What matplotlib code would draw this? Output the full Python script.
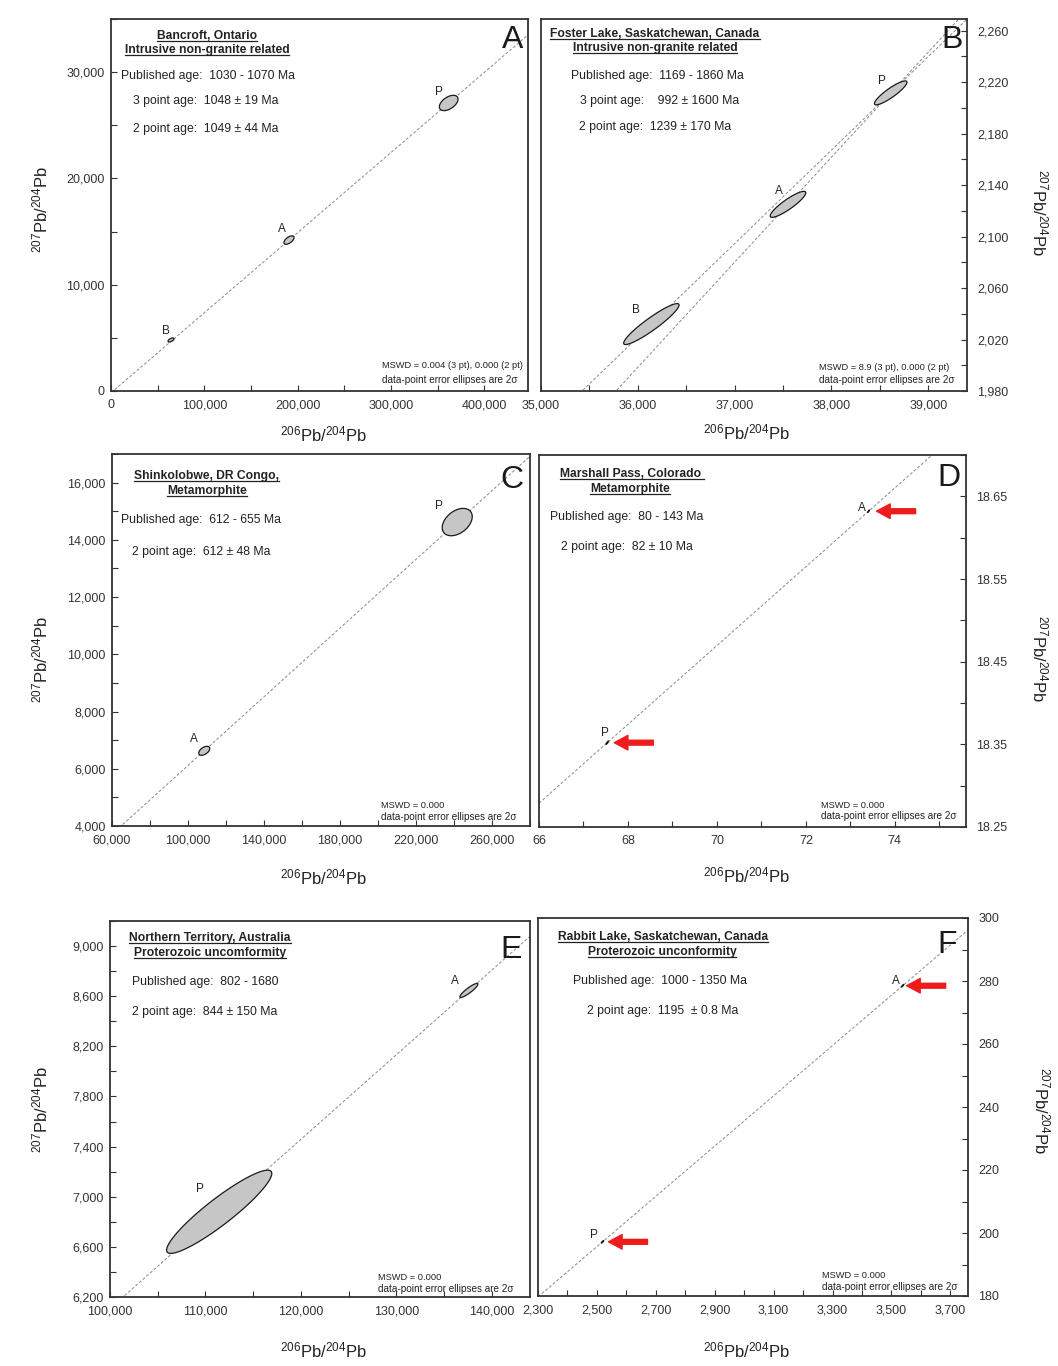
import numpy as np
import matplotlib
matplotlib.use('Agg')
import matplotlib.pyplot as plt
from matplotlib.ticker import MultipleLocator, FuncFormatter
from matplotlib.lines import Line2D

plt.rcParams['font.family'] = ['Liberation Sans', 'DejaVu Sans']
plt.rcParams['mathtext.fontset'] = 'custom'
plt.rcParams['mathtext.rm'] = 'Liberation Sans'
plt.rcParams['mathtext.it'] = 'Liberation Sans:italic'

W, H = 1058, 1366

# --- data: 206Pb/204Pb (x), 207Pb/204Pb (y), 2-sigma errors and error correlation ---
# A  Bancroft, Ontario
a_names = ['B', 'A', 'P']
a_x = [64300, 190800, 362000]
a_y = [4800, 14200, 27100]
a_sx = [3200, 5400, 10000]
a_sy = [190, 400, 720]
a_rho = [0.6, 0.6, 0.5]
a_lines = [('A', 'P')]

# B  Foster Lake, Saskatchewan
b_names = ['B', 'A', 'P']
b_x = [36140, 37551, 38612]
b_y = [2032, 2125, 2211.6]
b_sx = [286, 184, 168]
b_sy = [15.9, 10.1, 9.3]
b_rho = [0.93, 0.89, 0.89]
b_lines = [('B', 'P'), ('A', 'P')]

# C  Shinkolobwe, DR Congo
c_names = ['A', 'P']
c_x = [108550, 241700]
c_y = [6628, 14621]
c_sx = [2900, 7900]
c_sy = [157, 478]
c_rho = [0.5, 0.4]
c_lines = [('A', 'P')]

# D  Marshall Pass, Colorado
d_names = ['A', 'P']
d_x = [73.41, 67.535]
d_y = [18.632, 18.352]
d_sx = [0.02, 0.03]
d_sy = [0.0015, 0.002]
d_rho = [0.9, 0.9]
d_lines = [('P', 'A')]

# E  Northern Territory, Australia
e_names = ['A', 'P']
e_x = [137600, 111440]
e_y = [8646, 6880]
e_sx = [944, 5510]
e_sy = [56, 332]
e_rho = [0.9, 0.92]
e_lines = [('P', 'A')]

# F  Rabbit Lake, Saskatchewan
f_names = ['A', 'P']
f_x = [3538, 2519]
f_y = [278.5, 197.2]
f_sx = [4, 4]
f_sy = [0.4, 0.4]
f_rho = [0.9, 0.9]
f_lines = [('P', 'A')]

titles = {
    'A': ['Bancroft, Ontario', 'Intrusive non-granite related'],
    'B': ['Foster Lake, Saskatchewan, Canada', 'Intrusive non-granite related'],
    'C': ['Shinkolobwe, DR Congo,', 'Metamorphite'],
    'D': ['Marshall Pass, Colorado ', 'Metamorphite'],
    'E': ['Northern Territory, Australia', 'Proterozoic uncomformity'],
    'F': ['Rabbit Lake, Saskatchewan, Canada', 'Proterozoic unconformity'],
}
ages = {
    'A': ['Published age:  1030 - 1070 Ma', '3 point age:  1048 ± 19 Ma', '2 point age:  1049 ± 44 Ma'],
    'B': ['Published age:  1169 - 1860 Ma', '3 point age:    992 ± 1600 Ma', '2 point age:  1239 ± 170 Ma'],
    'C': ['Published age:  612 - 655 Ma', '2 point age:  612 ± 48 Ma'],
    'D': ['Published age:  80 - 143 Ma', '2 point age:  82 ± 10 Ma'],
    'E': ['Published age:  802 - 1680', '2 point age:  844 ± 150 Ma'],
    'F': ['Published age:  1000 - 1350 Ma', '2 point age:  1195  ± 0.8 Ma'],
}
mswd = {
    'A': 'MSWD = 0.004 (3 pt), 0.000 (2 pt)',
    'B': 'MSWD = 8.9 (3 pt), 0.000 (2 pt)',
    'C': 'MSWD = 0.000', 'D': 'MSWD = 0.000', 'E': 'MSWD = 0.000', 'F': 'MSWD = 0.000',
}
arrows = {'D': ['A', 'P'], 'F': ['A', 'P']}

panels = {
    'A': dict(names=a_names, x=a_x, y=a_y, sx=a_sx, sy=a_sy, rho=a_rho, lines=a_lines),
    'B': dict(names=b_names, x=b_x, y=b_y, sx=b_sx, sy=b_sy, rho=b_rho, lines=b_lines),
    'C': dict(names=c_names, x=c_x, y=c_y, sx=c_sx, sy=c_sy, rho=c_rho, lines=c_lines),
    'D': dict(names=d_names, x=d_x, y=d_y, sx=d_sx, sy=d_sy, rho=d_rho, lines=d_lines),
    'E': dict(names=e_names, x=e_x, y=e_y, sx=e_sx, sy=e_sy, rho=e_rho, lines=e_lines),
    'F': dict(names=f_names, x=f_x, y=f_y, sx=f_sx, sy=f_sy, rho=f_rho, lines=f_lines),
}

# --- layout (pixels from top-left) ---
# box l, t, r, b ; tick (major, minor, offset)
layout = {
    'A': dict(box=(111, 19, 528, 391), xlim=(0, 447000), ylim=(0, 35000),
              xt=(100000, 50000, 0), yt=(10000, 5000, 0), side='left'),
    'B': dict(box=(541, 19, 967, 391), xlim=(35000, 39400), ylim=(1980, 2269),
              xt=(1000, 500, 0), yt=(40, 20, 20), side='right'),
    'C': dict(box=(112, 454, 530, 826), xlim=(60000, 280000), ylim=(4000, 17000),
              xt=(40000, 20000, 20000), yt=(2000, 1000, 0), side='left'),
    'D': dict(box=(539, 455, 966, 827), xlim=(66, 75.6), ylim=(18.25, 18.70),
              xt=(2, 1, 0), yt=(0.1, 0.05, 0.05), side='right'),
    'E': dict(box=(110, 921, 530, 1297), xlim=(100000, 144000), ylim=(6200, 9200),
              xt=(10000, 5000, 0), yt=(400, 200, 200), side='left'),
    'F': dict(box=(538, 918, 968, 1296), xlim=(2300, 3760), ylim=(180, 300),
              xt=(200, 100, 100), yt=(20, 10, 0), side='right'),
}
title_pos = {'A': [(207, 35), (207, 49)], 'B': [(655, 33), (655, 47)],
             'C': [(206, 475), (207, 490)], 'D': [(632, 473), (630, 488)],
             'E': [(210, 937), (210, 952)], 'F': [(663, 936), (662, 951)]}
age_pos = {'A': [(121, 76), (133, 101), (133, 129)], 'B': [(571, 76), (580, 101), (579, 127)],
           'C': [(121, 520), (132, 552)], 'D': [(550, 517), (561, 547)],
           'E': [(132, 982), (132, 1012)], 'F': [(573, 981), (587, 1011)]}
mswd_pos = {'A': (382, 366, 380), 'B': (819, 367, 380), 'C': (381, 805, 817),
            'D': (821, 805, 816), 'E': (378, 1277, 1289), 'F': (822, 1276, 1287)}
letter_pos = {'A': (523, 25), 'B': (963, 25), 'C': (523, 465), 'D': (960, 463),
              'E': (522, 935), 'F': (957, 930)}
xlabel_pos = {'A': (323, 434), 'B': (746, 432), 'C': (323, 877), 'D': (746, 875),
              'E': (323, 1350), 'F': (746, 1350)}
ylabel_pos = {'A': (40, 210), 'B': (1040, 212), 'C': (40, 660), 'D': (1040, 658),
              'E': (40, 1110), 'F': (1042, 1110)}
# label offsets (px: right, up) from ellipse centre
name_off = {
    'A': {'B': (-5, 9), 'A': (-7, 11), 'P': (-10, 11)},
    'B': {'B': (-15, 14), 'A': (-9, 13), 'P': (-9, 12)},
    'C': {'A': (-10, 12), 'P': (-18, 16)},
    'D': {'A': (-7, 3), 'P': (-2, 10)},
    'E': {'A': (-14, 9), 'P': (-19, 23)},
    'F': {'A': (-7, 5), 'P': (-9, 7)},
}
arrow_off = {'D': {'A': (8, 47), 'P': (7, 46)}, 'F': {'A': (4, 43), 'P': (6, 45)}}

PT = 72.0 / 100


def fp(x, y):
    return x / W, 1 - y / H


def comma(v, p):
    return f'{v:,.0f}'


fig = plt.figure(figsize=(W / 100, H / 100), dpi=100)
fig.patch.set_facecolor('white')
ink = '#222222'
lab = r'$^{206}$Pb/$^{204}$Pb'
lab_y = r'$^{207}$Pb/$^{204}$Pb'

title_texts = []
t = np.linspace(0, 2 * np.pi, 200)

for key, lay in layout.items():
    l, tp, r, b = lay['box']
    ax = fig.add_axes([l / W, 1 - b / H, (r - l) / W, (b - tp) / H])
    ax.set_xlim(*lay['xlim'])
    ax.set_ylim(*lay['ylim'])
    for s in ax.spines.values():
        s.set_linewidth(1.3)
        s.set_color('#333333')

    p = panels[key]
    pts = {n: (x, y) for n, x, y in zip(p['names'], p['x'], p['y'])}

    # isochron lines through the chosen pairs of points
    xs = np.array(lay['xlim'])
    for n1, n2 in p['lines']:
        (x1, y1), (x2, y2) = pts[n1], pts[n2]
        k = (y2 - y1) / (x2 - x1)
        ax.plot(xs, y1 + k * (xs - x1), ls=(0, (3, 2)), lw=0.7, color='#8a8a8a', zorder=1)

    # error ellipses
    for n, x, y, sx, sy, rho in zip(p['names'], p['x'], p['y'], p['sx'], p['sy'], p['rho']):
        ex = x + sx * np.cos(t)
        ey = y + sy * (rho * np.cos(t) + np.sqrt(1 - rho ** 2) * np.sin(t))
        ax.fill(ex, ey, facecolor='#c6c6c6', edgecolor='#1a1a1a', lw=0.9, zorder=3)
        dx, dy = name_off[key][n]
        ax.annotate(n, (x, y), xytext=(dx * PT, dy * PT), textcoords='offset points',
                    ha='center', va='center', fontsize=8.5, color=ink)

    for n in arrows.get(key, []):
        tip, tail = arrow_off[key][n]
        ax.annotate('', xy=pts[n], xytext=(tail * PT, 0), textcoords='offset points',
                    arrowprops=dict(arrowstyle='simple,head_length=0.7,head_width=0.75,tail_width=0.25',
                                    color='#ee1c1c', shrinkA=0, shrinkB=tip * PT,
                                    mutation_scale=14))

    # ticks
    xmaj, xmin, xoff = lay['xt']
    ymaj, ymin, yoff = lay['yt']
    ax.xaxis.set_major_locator(MultipleLocator(xmaj, offset=xoff))
    ax.xaxis.set_minor_locator(MultipleLocator(xmin))
    ax.yaxis.set_major_locator(MultipleLocator(ymaj, offset=yoff))
    ax.yaxis.set_minor_locator(MultipleLocator(ymin))
    if key == 'D':
        ax.xaxis.set_major_formatter(FuncFormatter(lambda v, q: f'{v:.0f}'))
        ax.yaxis.set_major_formatter(FuncFormatter(lambda v, q: f'{v:.2f}'))
    else:
        ax.xaxis.set_major_formatter(FuncFormatter(comma))
        ax.yaxis.set_major_formatter(FuncFormatter(comma))
    ax.tick_params(which='both', direction='in', length=4, width=0.8, color='#333333',
                   labelsize=9, labelcolor='#333333', top=False)
    ax.tick_params(axis='x', pad=6)
    if lay['side'] == 'right':
        ax.yaxis.tick_right()
        ax.tick_params(axis='y', which='both', left=False, right=True, pad=7.5)
        rot = -90
    else:
        ax.tick_params(axis='y', which='both', right=False, pad=4.5)
        rot = 90

    # texts
    for txt, (x, y) in zip(titles[key], title_pos[key]):
        tt = fig.text(*fp(x, y + 4), txt, ha='center', va='baseline', fontsize=8.7,
                      fontweight='bold', color=ink)
        title_texts.append(tt)
    for txt, (x, y) in zip(ages[key], age_pos[key]):
        fig.text(*fp(x, y), txt, ha='left', va='center', fontsize=8.8, color=ink)
    mx, my1, my2 = mswd_pos[key]
    fig.text(*fp(mx, my1), mswd[key], ha='left', va='center', fontsize=6.7, color=ink)
    fig.text(*fp(mx, my2), 'data-point error ellipses are 2σ', ha='left', va='center',
             fontsize=7.2, color=ink)
    lx, ly = letter_pos[key]
    fig.text(*fp(lx, ly), key, ha='right', va='top', fontsize=23, color='#1a1a1a')
    fig.text(*fp(*xlabel_pos[key]), lab, ha='center', va='center', fontsize=12, color=ink)
    fig.text(*fp(*ylabel_pos[key]), lab_y, ha='center', va='center', fontsize=12,
             color=ink, rotation=rot)

# underline the site titles
fig.canvas.draw()
rend = fig.canvas.get_renderer()
inv = fig.transFigure.inverted()
for tt in title_texts:
    bb = tt.get_window_extent(rend)
    base = tt.get_position()[1] * H - 2
    x0, y0 = inv.transform((bb.x0, base))
    x1, _ = inv.transform((bb.x1, base))
    fig.add_artist(Line2D([x0, x1], [y0, y0], transform=fig.transFigure, lw=0.9, color=ink))

fig.savefig('out.png', dpi=100)
